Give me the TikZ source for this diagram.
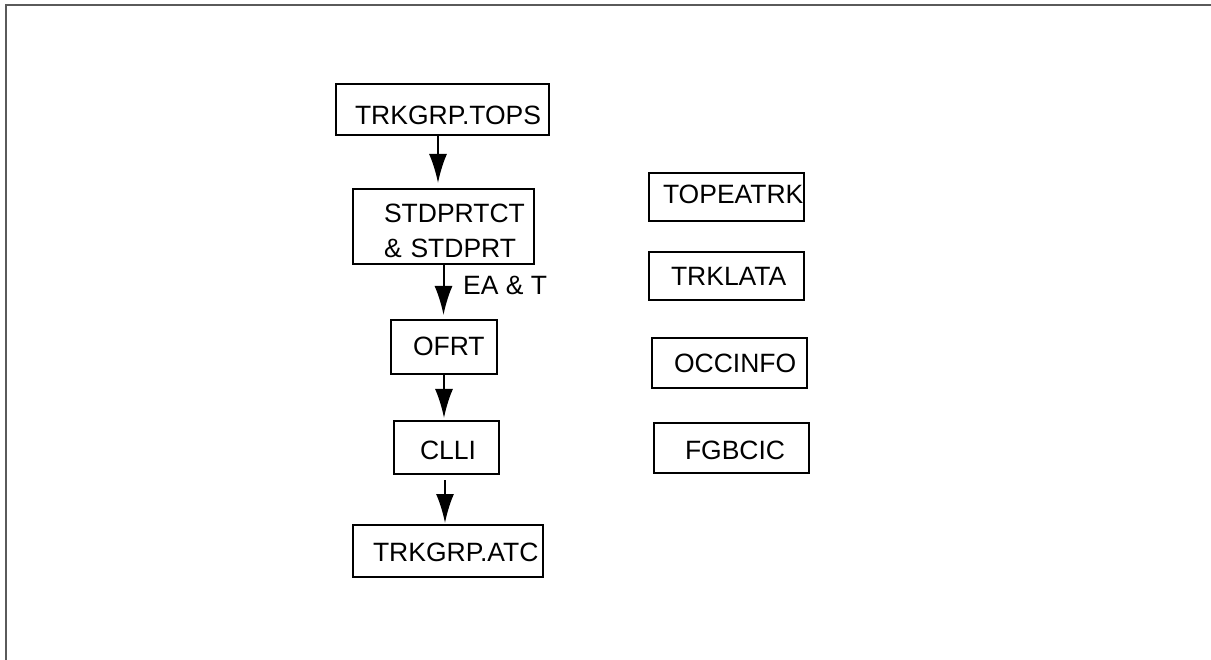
\documentclass[tikz,border=0pt]{standalone}
\usepackage{fontspec}
\setmainfont{Liberation Sans}
\usetikzlibrary{arrows.meta}
\definecolor{framegray}{HTML}{5A5A5A}
\begin{document}
\begin{tikzpicture}[x=1pt,y=-1pt,>={Latex[length=29pt,width=18pt]},
  every node/.style={font=\fontsize{26.5}{35}\selectfont},
  tbl/.style={draw,line width=2pt,anchor=north west,align=left,inner ysep=0pt},
  flow/.style={->,line width=2pt}]
\useasboundingbox (0,0) rectangle (1211,660);
\draw[framegray,line width=1.4pt] (1211,5) -- (6,5) -- (6,660);
% left column
\node[tbl,inner xsep=19pt,text width=175pt,text height=41pt,text depth=10pt] (tops) at (335,83) {\mbox{TRKGRP.TOPS}};
\node[tbl,inner xsep=31pt,text width=119pt,text height=34pt,text depth=41pt] (stdprt) at (352,188) {\mbox{STDPRTCT}\\\mbox{\& STDPRT}};
\node[tbl,inner xsep=22pt,text width=62pt,text height=36pt,text depth=18pt] (ofrt) at (390,319) {\mbox{OFRT}};
\node[tbl,inner xsep=26pt,text width=53pt,text height=38pt,text depth=15pt] (clli) at (393,420) {\mbox{CLLI}};
\node[tbl,inner xsep=20pt,text width=150pt,text height=36pt,text depth=16pt] (atc) at (352,524) {\mbox{TRKGRP.ATC}};
\node[anchor=base west,inner sep=0pt] (eat) at (463,295) {EA \& T};
% right column
\node[tbl,inner xsep=14pt,text width=127pt,text height=31pt,text depth=17pt] (topea) at (648,172) {\mbox{TOPEATRK}};
\node[tbl,inner xsep=22pt,text width=111pt,text height=34pt,text depth=14pt] (klata) at (648,251) {\mbox{TRKLATA}};
\node[tbl,inner xsep=22pt,text width=111pt,text height=35pt,text depth=15pt] (occ) at (651,337) {\mbox{OCCINFO}};
\node[tbl,inner xsep=31pt,text width=93pt,text height=36pt,text depth=14pt] (fgb) at (653,422) {\mbox{FGBCIC}};
% arrows
\draw[flow,shorten >=5pt] ([xshift=-4.5pt]tops.south) -- ([xshift=-4.5pt]tops.south |- stdprt.north);
\draw[flow,shorten >=4pt] (stdprt.south) -- (stdprt.south |- ofrt.north);
\draw[flow,shorten >=2pt] (ofrt.south) -- (ofrt.south |- clli.north);
\draw[flow,shorten <=5pt,shorten >=1pt] ([xshift=-1.5pt]clli.south) -- ([xshift=-1.5pt]clli.south |- atc.north);
\end{tikzpicture}
\end{document}
